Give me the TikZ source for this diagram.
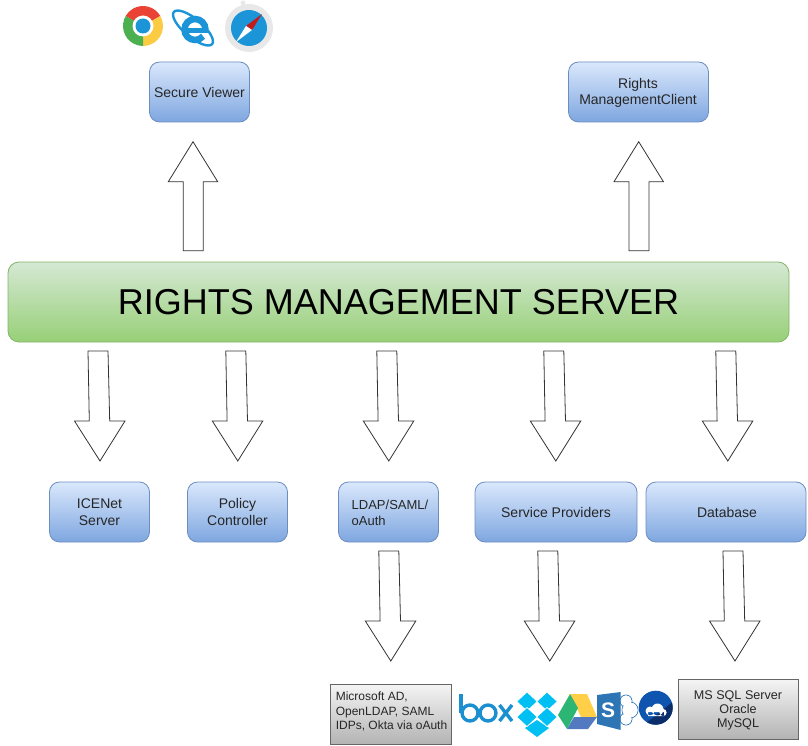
\documentclass[tikz,border=0pt]{standalone}
\usepackage{fontspec}
\setmainfont{Liberation Sans}
\definecolor{bluetop}{HTML}{DAE8FC}\definecolor{bluebot}{HTML}{7EA6E0}\definecolor{blueln}{HTML}{6C8EBF}
\definecolor{greentop}{HTML}{D5E8D4}\definecolor{greenbot}{HTML}{97D077}\definecolor{greenln}{HTML}{82B366}
\definecolor{graytop}{HTML}{F5F5F5}\definecolor{graybot}{HTML}{B3B3B3}\definecolor{grayln}{HTML}{666666}
\definecolor{iconblue}{HTML}{1B95D8}\definecolor{boxblue}{HTML}{1C8FD1}\definecolor{dropblue}{HTML}{00BFF3}
\definecolor{spblue}{HTML}{2E75B6}\definecolor{chromered}{HTML}{EA4335}\definecolor{chromeyellow}{HTML}{FBCB43}
\definecolor{chromegreen}{HTML}{4CAF50}\definecolor{drivegreen}{HTML}{2DB573}\definecolor{driveyellow}{HTML}{FFCF48}
\definecolor{driveblue}{HTML}{5379C1}\definecolor{onelight}{HTML}{0F55B0}\definecolor{onedark}{HTML}{0B2E6B}
\tikzset{
  bluebox/.style={draw=blueln,line width=.8pt,rounded corners=10pt,top color=bluetop,bottom color=bluebot,
    inner sep=0pt,align=center,text=black!85,font=\fontsize{14}{16.5}\selectfont},
  serverbox/.style={draw=greenln,line width=.8pt,rounded corners=11pt,top color=greentop,bottom color=greenbot,
    inner sep=0pt,font=\fontsize{36}{40}\selectfont},
  graybox/.style={draw=grayln,line width=1pt,top color=graytop,bottom color=graybot,
    inner sep=0pt,text=black!85,font=\fontsize{12}{14.5}\selectfont},
  block/.style={draw=black!80,fill=white,line width=.8pt,line join=miter},
  pics/blockdown/.style={code={
    \draw[block] (-12,-110) -- (8,-110) -- (9.7,-40) -- (25,-40) -- (0,0) -- (-25.5,-40) -- (-10.7,-40) -- cycle;}},
  pics/blockup/.style={code={
    \draw[block] (-9.7,109) -- (-9.7,40) -- (-24.7,40) -- (0,0) -- (24.7,40) -- (10.3,40) -- (10.3,109) -- cycle;}},
}
\begin{document}
\begin{tikzpicture}[x=1pt,y=-1pt]
\useasboundingbox (0,0) rectangle (808,746);
% nodes
\node[bluebox,minimum width=100pt,minimum height=60pt] (viewer) at (199.5,92) {Secure Viewer};
\node[bluebox,minimum width=140pt,minimum height=60pt] (client) at (638.5,92) {};
\node[align=center,inner sep=0pt,text=black!85,font=\fontsize{14}{16.5}\selectfont] (clienttext) at (638,93) {Rights\\ManagementClient};
\node[serverbox,minimum width=781pt,minimum height=80pt] (server) at (398.5,302) {RIGHTS MANAGEMENT SERVER};
\node[bluebox,minimum width=100pt,minimum height=60pt] (icenet) at (99.5,512) {ICENet\\Server};
\node[bluebox,minimum width=100pt,minimum height=60pt] (policy) at (237.5,512) {Policy\\Controller};
\node[bluebox,minimum width=100pt,minimum height=60pt] (ldap) at (388.5,512) {};
\node[align=left,inner sep=0pt,text=black!85,font=\fontsize{13}{16.5}\selectfont] (ldaptext) at (390,513) {LDAP/SAML/\\oAuth};
\node[bluebox,minimum width=162pt,minimum height=60pt] (providers) at (556,512) {Service Providers};
\node[bluebox,minimum width=160pt,minimum height=60pt] (database) at (726,512) {\hspace*{2pt}Database};
\node[graybox,minimum width=121pt,minimum height=60pt] (dirs) at (390.5,714) {};
\node[align=left,inner sep=0pt,text=black!85,font=\fontsize{12}{14.5}\selectfont] (dirstext) at (391.5,711.5) {Microsoft AD,\\OpenLDAP, SAML\\IDPs, Okta via oAuth};
\node[graybox,minimum width=120pt,minimum height=60pt] (dbs) at (738,709) {};
\node[align=center,inner sep=0pt,text=black!85,font=\fontsize{12.6}{13.6}\selectfont] (dbstext) at (738,710.5) {MS SQL Server\\Oracle\\MySQL};
% block arrows
\pic at (193,141.7) {blockup};
\pic at (638.7,141.7) {blockup};
\pic at (100,461) {blockdown};
\pic at (237.8,461) {blockdown};
\pic at (388.8,461) {blockdown};
\pic at (555.8,461) {blockdown};
\pic at (727.8,461) {blockdown};
\pic at (390.8,661) {blockdown};
\pic at (549.8,661) {blockdown};
\pic at (735,661) {blockdown};
% Chrome
\fill[chromered] (143,26) -- (160.3,16) arc[start angle=-30,end angle=-150,radius=20] -- cycle;
\fill[chromeyellow] (143,26) -- (143,46) arc[start angle=90,end angle=-30,radius=20] -- cycle;
\fill[chromegreen] (143,26) -- (125.7,16) arc[start angle=210,end angle=90,radius=20] -- cycle;
\fill[white] (143,26) circle[radius=10.5];
\fill[iconblue] (143,26) circle[radius=7.5];
% Internet Explorer
\draw[iconblue,line width=2.4pt] (193,28) ellipse[x radius=25,y radius=9,rotate=-40];
\draw[iconblue,line width=6.5pt] (205.5,29.5) arc[start angle=0,end angle=-320,radius=10.5];
\draw[iconblue,line width=4.5pt] (186,30.5) -- (208,30.5);
% Safari
\fill[gray!18] (243,3) circle[radius=2.5];
\fill[gray!18] (249,28) circle[radius=24];
\fill[iconblue] (249,28) circle[radius=18];
\fill[red!75!black!90] (262,14) -- (246,26) -- (252,30) -- cycle;
\fill[white] (236,42) -- (246,26) -- (252,30) -- cycle;
% box
\draw[boxblue,line width=3.4pt] (461,694) -- (461,713);
\draw[boxblue,line width=3.4pt] (470,713) circle[radius=8];
\draw[boxblue,line width=3.4pt] (488,713) circle[radius=8];
\draw[boxblue,line width=3.4pt] (499.5,705) -- (512,721) (512,705) -- (499.5,721);
% Dropbox
\fill[dropblue] (525,728) -- (537,720) -- (549,728) -- (537,737) -- cycle;
\foreach \cx/\cy in {527/701.5,547/701.5,527/717,547/717}
  \filldraw[draw=white,line width=.7pt,fill=dropblue] (\cx-10.3,\cy) -- (\cx,\cy-9.5) -- (\cx+10.3,\cy) -- (\cx,\cy+9.5) -- cycle;
% Drive
\fill[driveyellow] (570,694) -- (587,694) -- (597,717) -- (581,717) -- cycle;
\fill[drivegreen] (570,694) -- (578,708) -- (567,729) -- (558,715) -- cycle;
\fill[driveblue] (567,729) -- (588,729) -- (597,717) -- (574,717) -- cycle;
% SharePoint
\foreach \cx/\cy/\r in {626/701/6,630/710/8,626/719/6}
  \draw[spblue,line width=.8pt] (\cx,\cy) circle[radius=\r];
\foreach \cx/\cy/\r in {626/701/6,630/710/8,626/719/6}
  \fill[white] (\cx,\cy) circle[radius=\r-.4];
\fill[spblue] (597,695) -- (620.7,692) -- (620.7,730) -- (597,724) -- cycle;
\node[inner sep=0pt,text=white,font=\bfseries\fontsize{21}{21}\selectfont] (spletter) at (608,710) {S};
% OneDrive
\fill[onelight] (655.7,707.7) circle[radius=17];
\begin{scope}
  \clip (655.7,707.7) circle[radius=17];
  \fill[onedark] (640,728) -- (675,700) -- (680,730) -- cycle;
\end{scope}
\fill[white] (650,711) circle[radius=4.5] (657.5,709.5) circle[radius=6] (663,712.5) circle[radius=3.6] (648,712) rectangle (664,716);
\end{tikzpicture}
\end{document}
